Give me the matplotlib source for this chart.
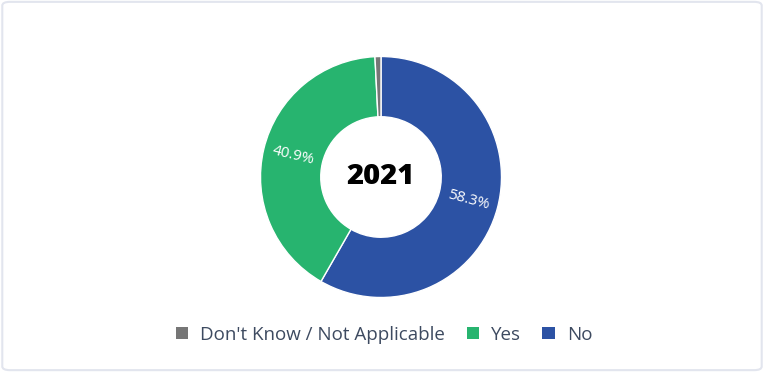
import matplotlib
matplotlib.use("Agg")
import matplotlib.pyplot as plt
from matplotlib.patches import FancyBboxPatch, Patch

# data
categories = ["No", "Yes", "Don't Know / Not Applicable"]
shares = [58.3, 40.9, 0.8]
colors = ["#2c52a4", "#27b46f", "#767676"]
legend_order = ["Don't Know / Not Applicable", "Yes", "No"]
center_text = "2021"

plt.rcParams["font.family"] = ["Open Sans", "DejaVu Sans"]

fig = plt.figure(figsize=(7.64, 3.72), dpi=100)
fig.patch.set_facecolor("white")

# light rounded frame around the card
frame = FancyBboxPatch((0.003, 0.005), 0.994, 0.99, boxstyle="round,pad=0,rounding_size=0.01",
                       transform=fig.transFigure, facecolor="none", edgecolor="#e2e5ee", linewidth=1.5)
fig.patches.append(frame)

cx, cy, r = 381, 177, 120.5
ax = fig.add_axes([(cx - r) / 764, (372 - cy - r) / 372, 2 * r / 764, 2 * r / 372])

wedges, texts = ax.pie(shares, colors=colors, startangle=90, counterclock=False, radius=1,
                       wedgeprops=dict(width=0.5, edgecolor="white", linewidth=1),
                       labels=[f"{v}%" if v > 5 else "" for v in shares],
                       labeldistance=0.75, rotatelabels=True,
                       textprops=dict(color="white", fontsize=11))
for t in texts:
    t.set_ha("center")
    t.set_va("center")
ax.set_xlim(-1, 1)
ax.set_ylim(-1, 1)
ax.set_aspect("equal")
ax.text(0, 0, center_text, ha="center", va="center", fontsize=21, fontweight="heavy", color="black")

handles = [Patch(facecolor=colors[categories.index(c)], edgecolor="none") for c in legend_order]
fig.legend(handles, legend_order, loc="center", bbox_to_anchor=(384 / 764, 0.1), ncol=3, frameon=False,
           fontsize=13.5, labelcolor="#3d4a60", handlelength=0.65, handleheight=0.65, handletextpad=0.65,
           columnspacing=1.15)

fig.savefig("out.png", dpi=100)
